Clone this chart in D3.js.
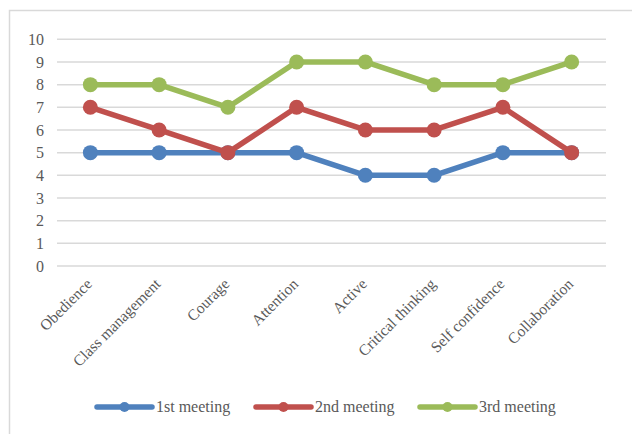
<!DOCTYPE html>
<html><head><meta charset="utf-8">
<script src="https://cdn.jsdelivr.net/npm/d3@7"></script>
<style>body{margin:0;background:#fff}svg{display:block}text{font-family:'Liberation Serif',serif}</style>
</head><body><svg id="c" width="632" height="434"></svg>
<script>
const categories = ["Obedience","Class management","Courage","Attention","Active","Critical thinking","Self confidence","Collaboration"];
const seriesNames = ["1st meeting","2nd meeting","3rd meeting"];
const meeting1 = [5,5,5,5,4,4,5,5];
const meeting2 = [7,6,5,7,6,6,7,5];
const meeting3 = [8,8,7,9,9,8,8,9];
const yTicks = [0,1,2,3,4,5,6,7,8,9,10];
const colors = ["#4f81bd","#c0504d","#9bbb59"];

const svg = d3.select("#c");
const font = "'Liberation Serif', serif";
svg.append("rect").attr("x",9.5).attr("y",10.5).attr("width",700).attr("height",500)
  .attr("fill","#fff").attr("stroke","#d9d9d9").attr("stroke-width",1.5);

const x = d3.scalePoint().domain(categories).range([56,606]).padding(0.5);
const y = d3.scaleLinear().domain([0,10]).range([266,39.3]);

const grid = svg.append("g");
grid.selectAll("line").data(yTicks).join("line")
  .attr("x1",57).attr("x2",606).attr("y1",d=>y(d)).attr("y2",d=>y(d))
  .attr("stroke","#d9d9d9").attr("stroke-width",1.5);

const yAxis = svg.append("g").attr("transform","translate(50,0)")
  .call(d3.axisLeft(y).tickValues(yTicks).tickSize(0).tickPadding(6));
yAxis.select(".domain").remove();
yAxis.attr("font-family",font);
yAxis.selectAll("text").style("font-family",font).attr("font-size",16).attr("fill","#595959");

const xAxis = svg.append("g").attr("transform","translate(0,266)")
  .call(d3.axisBottom(x).tickSize(0).tickPadding(0));
xAxis.select(".domain").remove();
xAxis.attr("font-family",font);
xAxis.selectAll("text").style("font-family",font).attr("font-size",15.5).attr("fill","#595959")
  .attr("text-anchor","end").attr("dy",null).attr("y",0)
  .attr("transform","translate(2,19) rotate(-45)");

const allSeries = [meeting1, meeting2, meeting3];
const line = d3.line().x((d,i)=>x(categories[i])).y(d=>y(d));
allSeries.forEach((vals,k)=>{
  const g = svg.append("g");
  g.append("path").datum(vals).attr("d",line).attr("fill","none")
    .attr("stroke",colors[k]).attr("stroke-width",5.5).attr("stroke-linejoin","round").attr("stroke-linecap","round");
  g.selectAll("circle").data(vals).join("circle")
    .attr("cx",(d,i)=>x(categories[i])).attr("cy",d=>y(d)).attr("r",7.5).attr("fill",colors[k]);
});

const legendX = [97,256,420];
const lg = svg.append("g");
seriesNames.forEach((name,k)=>{
  const lx = legendX[k], ly = 407;
  lg.append("line").attr("x1",lx).attr("x2",lx+55).attr("y1",ly).attr("y2",ly)
    .attr("stroke",colors[k]).attr("stroke-width",5.5).attr("stroke-linecap","round");
  lg.append("circle").attr("cx",lx+27.5).attr("cy",ly).attr("r",5).attr("fill",colors[k]);
  lg.append("text").attr("x",lx+59).attr("y",ly).attr("dy","0.33em")
    .style("font-family",font).attr("font-size",16).attr("fill","#595959").text(name);
});
</script></body></html>
